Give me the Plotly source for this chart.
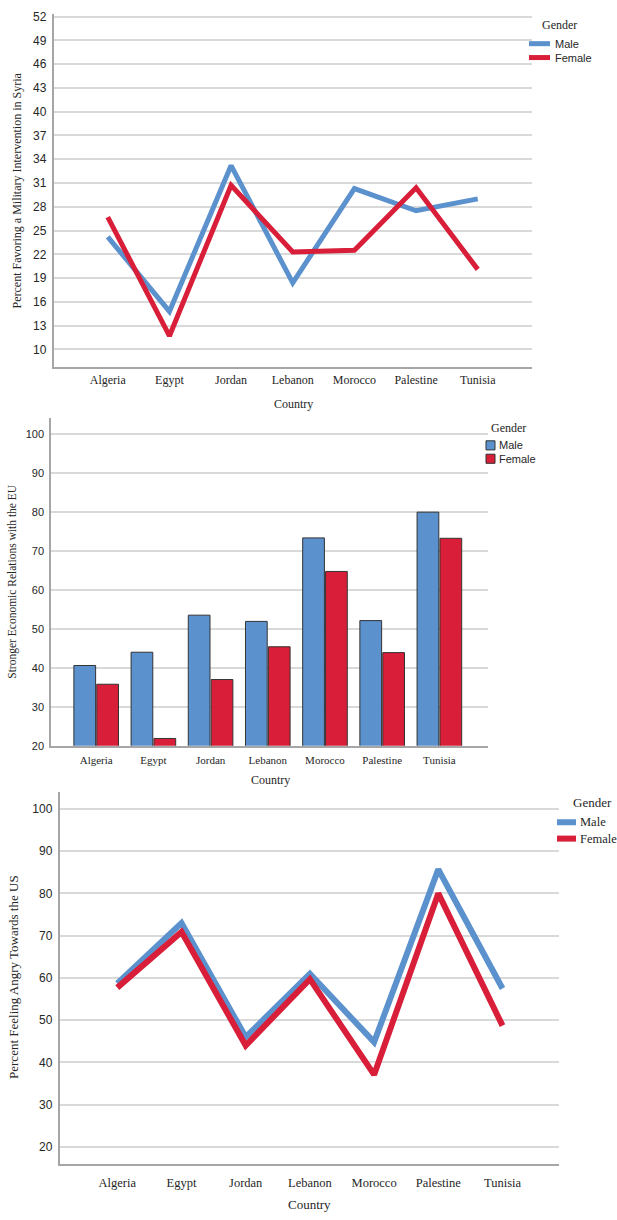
import plotly.graph_objects as go

countries = ["Algeria", "Egypt", "Jordan", "Lebanon", "Morocco", "Palestine", "Tunisia"]

# Chart 1: Percent Favoring a Military Intervention in Syria
syria_male = [24.2, 14.8, 33.2, 18.4, 30.3, 27.5, 29.0]
syria_female = [26.7, 11.7, 30.7, 22.3, 22.5, 30.4, 20.1]
syria_ticks = [10, 13, 16, 19, 22, 25, 28, 31, 34, 37, 40, 43, 46, 49, 52]

# Chart 2: Stronger Economic Relations with the EU
eu_male = [40.6, 44.0, 53.5, 51.9, 73.3, 52.1, 79.9]
eu_female = [35.8, 21.9, 37.0, 45.4, 64.7, 43.9, 73.2]
eu_ticks = [20, 30, 40, 50, 60, 70, 80, 90, 100]

# Chart 3: Percent Feeling Angry Towards the US
us_male = [58.7, 73.0, 46.0, 61.0, 44.8, 85.7, 57.5]
us_female = [57.7, 70.9, 44.0, 59.7, 37.1, 80.0, 48.7]
us_ticks = [20, 30, 40, 50, 60, 70, 80, 90, 100]

W, H = 617, 1220
BLUE = "#5B91CD"
RED = "#D81E38"
GRID = "#d9d9d9"
AXIS = "#a6a6a6"
TXT = "#262626"
SERIF = "Liberation Serif, Times New Roman, serif"
SANS = "Liberation Sans, Arial, sans-serif"


def X(px):
    return px / W


def Y(py):
    return 1 - py / H


fig = go.Figure()

fig.add_trace(go.Scatter(x=countries, y=syria_male, mode="lines", line=dict(color=BLUE, width=5),
                         name="Male", xaxis="x", yaxis="y", showlegend=False))
fig.add_trace(go.Scatter(x=countries, y=syria_female, mode="lines", line=dict(color=RED, width=5),
                         name="Female", xaxis="x", yaxis="y", showlegend=False))

fig.add_trace(go.Bar(x=countries, y=eu_male, name="Male", marker=dict(color=BLUE, line=dict(color="#333333", width=1)),
                     xaxis="x2", yaxis="y2", showlegend=False))
fig.add_trace(go.Bar(x=countries, y=eu_female, name="Female", marker=dict(color=RED, line=dict(color="#333333", width=1)),
                     xaxis="x2", yaxis="y2", showlegend=False))

fig.add_trace(go.Scatter(x=countries, y=us_male, mode="lines", line=dict(color=BLUE, width=6),
                         name="Male", xaxis="x3", yaxis="y3", showlegend=False))
fig.add_trace(go.Scatter(x=countries, y=us_female, mode="lines", line=dict(color=RED, width=6),
                         name="Female", xaxis="x3", yaxis="y3", showlegend=False))


def xax(domain, rng, anchor, size, tlen):
    return dict(domain=domain, range=rng, anchor=anchor, type="category",
                showline=True, linecolor=AXIS, linewidth=1.5, showgrid=False, zeroline=False,
                ticks="outside", ticklen=tlen, tickcolor="rgba(0,0,0,0)",
                tickfont=dict(family=SERIF, size=size, color=TXT))


def yax(domain, rng, anchor, ticks, size):
    return dict(domain=domain, range=rng, anchor=anchor, tickmode="array", tickvals=ticks,
                showline=True, linecolor=AXIS, linewidth=1.5, showgrid=True, gridcolor=GRID, gridwidth=1.5,
                zeroline=False, ticks="outside", ticklen=3, tickcolor="rgba(0,0,0,0)",
                tickfont=dict(family=SANS, size=size, color=TXT))


layout = dict(
    width=W, height=H, margin=dict(l=0, r=0, t=0, b=0),
    paper_bgcolor="white", plot_bgcolor="white",
    barmode="group", bargap=0.2, bargroupgap=0.05,
    xaxis=xax([X(53.5), X(532)], [-0.88, 6.88], "y", 12, 1),
    yaxis=yax([Y(366), Y(10)], [7.78, 52.34], "x", syria_ticks, 12),
    xaxis2=xax([X(51), X(488)], [-0.79, 6.85], "y2", 11, 3),
    yaxis2=yax([Y(748), Y(417.3)], [20, 104.06], "x2", eu_ticks, 11),
    xaxis3=xax([X(59.5), X(559)], [-0.9, 6.88], "y3", 12.5, 6),
    yaxis3=yax([Y(1170), Y(795)], [15.85, 103.9], "x3", us_ticks, 12),
)
fig.update_layout(**layout)

annotations = []
shapes = []


def ann(text, x, y, size, family=SERIF, angle=0, xanchor="center"):
    annotations.append(dict(text=text, x=X(x), y=Y(y), xref="paper", yref="paper", showarrow=False,
                            xanchor=xanchor, yanchor="middle", textangle=angle,
                            font=dict(family=family, size=size, color=TXT)))


# axis titles
ann("Percent Favoring a Military Intervention in Syria", 17, 188, 12, angle=-90)
ann("Country", 293.5, 403, 12)
ann("Stronger Economic Relations with the EU", 12.5, 582, 11.5, angle=-90)
ann("Country", 270, 782.5, 12)
ann("Percent Feeling Angry Towards the US", 14, 981, 13, angle=-90)
ann("Country", 309, 1210.5, 13)

# legend 1 (lines)
ann("Gender", 559, 21.5, 12)
for yy, col, lab in [(40, BLUE, "Male"), (54, RED, "Female")]:
    shapes.append(dict(type="line", xref="paper", yref="paper", x0=X(529), x1=X(550), y0=Y(yy), y1=Y(yy),
                       line=dict(color=col, width=5)))
    ann(lab, 552.5, yy, 11, family=SANS, xanchor="left")

# legend 2 (bars)
ann("Gender", 508, 428, 12)
for yy, col, lab in [(445, BLUE, "Male"), (458.5, RED, "Female")]:
    shapes.append(dict(type="rect", xref="paper", yref="paper", x0=X(486), x1=X(495), y0=Y(yy - 4.6), y1=Y(yy + 4.6),
                       fillcolor=col, line=dict(color="#333333", width=1)))
    ann(lab, 497, yy, 11, family=SANS, xanchor="left")

# legend 3 (lines) - nudged left so that "Female" fits inside the page
ann("Gender", 592, 805, 13)
for yy, col, lab in [(825, BLUE, "Male"), (841.5, RED, "Female")]:
    shapes.append(dict(type="line", xref="paper", yref="paper", x0=X(557), x1=X(576), y0=Y(yy), y1=Y(yy),
                       line=dict(color=col, width=6)))
    ann(lab, 578, yy, 12.5, family=SERIF, xanchor="left")

fig.update_layout(annotations=annotations, shapes=shapes)

fig.write_html("out.html")
